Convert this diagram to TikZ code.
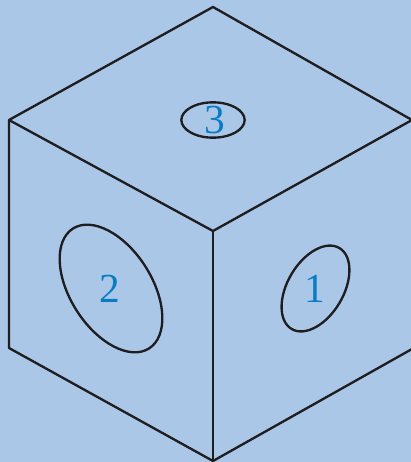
\documentclass[tikz,border=0pt]{standalone}
\usepackage{tikz}
\usepackage{fontspec}
\setmainfont{Liberation Serif}
\usetikzlibrary{shapes.geometric}
\definecolor{facebg}{RGB}{171,199,232}
\definecolor{numblue}{RGB}{10,124,196}
\definecolor{edgeink}{RGB}{30,30,32}

\begin{document}
\begin{tikzpicture}[x=0.75pt, y=0.75pt, line join=round,
      edge/.style={draw=edgeink, line width=1.75pt},
      hole/.style={ellipse, draw=edgeink, line width=1.75pt, inner sep=0pt},
      num/.style={color=numblue, font=\fontsize{31}{31}\selectfont}]
    \fill[facebg] (0,0) rectangle (411,462);
    \useasboundingbox (0,0) rectangle (411,462);

    \coordinate (top)    at (213,455);
    \coordinate (left)   at (9,342);
    \coordinate (front)  at (213,231);
    \coordinate (right)  at (412,342);
    \coordinate (lowl)   at (9,114);
    \coordinate (bottom) at (213,1);
    \coordinate (lowr)   at (412,113);

    \draw[edge] (top) -- (left) -- (front) -- (right) -- cycle;
    \draw[edge] (left) -- (lowl) -- (bottom) -- (lowr);
    \draw[edge] (front) -- (bottom);

    \node[hole, minimum width=70.5pt, minimum height=42pt, rotate=59.5] (holeone) at (315.5,173.5) {};
    \node[hole, minimum width=106.5pt, minimum height=61.25pt, rotate=-57.6] (holetwo) at (111,173.5) {};
    \node[hole, minimum width=47.5pt, minimum height=26.5pt] (holethree) at (213,342) {};

    \node[num] (one)   at (314.5,173) {1};
    \node[num] (two)   at (110,173) {2};
    \node[num] (three) at (214.5,342) {3};
\end{tikzpicture}
\end{document}
